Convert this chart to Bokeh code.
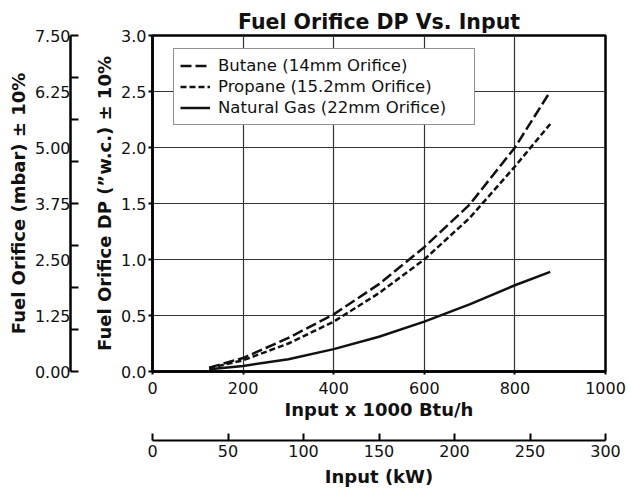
from bokeh.plotting import figure
from bokeh.models import (LinearAxis, Range1d, FixedTicker, PrintfTickFormatter)
from bokeh.embed import file_html
from bokeh.resources import INLINE

# ---- data ----
input_kbtu = [125, 200, 300, 400, 500, 600, 700, 800, 878]
butane = [0.035, 0.12, 0.30, 0.51, 0.78, 1.11, 1.49, 2.00, 2.50]
propane = [0.03, 0.10, 0.25, 0.445, 0.70, 1.00, 1.37, 1.83, 2.21]
natural_gas = [0.02, 0.05, 0.11, 0.20, 0.31, 0.445, 0.60, 0.77, 0.89]

series_names = ["Butane (14mm Orifice)", "Propane (15.2mm Orifice)", "Natural Gas (22mm Orifice)"]

x_ticks = [0, 200, 400, 600, 800, 1000]
y_ticks = [0.0, 0.5, 1.0, 1.5, 2.0, 2.5, 3.0]
mbar_labels = [0.0, 1.25, 2.5, 3.75, 5.0, 6.25, 7.5]
mbar_marks = [0.0, 0.9375, 1.875, 2.8125, 3.75, 4.6875, 5.625, 6.5625, 7.5]
kw_ticks = [0, 50, 100, 150, 200, 250, 300]

FONT = "DejaVu Sans"
INK = "#111111"

p = figure(width=631, height=489,
           x_range=Range1d(0, 1000), y_range=Range1d(0, 3.0),
           output_backend="svg", toolbar_location=None,
           min_border_left=152, min_border_right=26,
           min_border_top=35, min_border_bottom=117,
           title="Fuel Orifice DP Vs. Input")
p.extra_y_ranges = {"mbar": Range1d(0, 7.5)}
p.extra_x_ranges = {"kw": Range1d(0, 300)}

p.title.align = "center"
p.title.text_font = FONT
p.title.text_font_size = "20.5px"
p.title.text_font_style = "bold"
p.title.text_color = INK
p.title.standoff = 3

p.outline_line_color = "black"
p.outline_line_width = 2.5
p.outline_line_alpha = 1.0
p.background_fill_color = "white"
p.border_fill_color = "white"

def style_axis(ax, label_size="16px"):
    ax.major_label_text_font = FONT
    ax.major_label_text_font_size = label_size
    ax.major_label_text_color = INK
    ax.axis_label_text_font = FONT
    ax.axis_label_text_font_size = "18px"
    ax.axis_label_text_font_style = "bold"
    ax.axis_label_text_color = INK
    ax.axis_line_color = "black"
    ax.major_tick_line_color = "black"
    ax.minor_tick_line_color = None

def spacer(gap, **kw):
    sp = LinearAxis(ticker=FixedTicker(ticks=[]), axis_label=" ", **kw)
    sp.axis_line_color = None
    sp.major_tick_line_color = None
    sp.minor_tick_line_color = None
    sp.major_tick_out = 0
    sp.major_tick_in = 0
    sp.axis_label_text_font_size = "1px"
    sp.axis_label_standoff = gap
    return sp

# main x axis
xa = p.xaxis[0]
style_axis(xa)
xa.ticker = FixedTicker(ticks=x_ticks)
xa.formatter = PrintfTickFormatter(format="%d")
xa.axis_label = "Input x 1000 Btu/h"
xa.axis_line_width = 2.5
xa.major_tick_out = 3
xa.major_tick_in = 0
xa.major_tick_line_width = 2
xa.major_label_standoff = 7
xa.axis_label_standoff = 2

# main y axis
ya = p.yaxis[0]
style_axis(ya)
ya.ticker = FixedTicker(ticks=y_ticks)
ya.formatter = PrintfTickFormatter(format="%.1f")
ya.axis_label = "Fuel Orifice DP (\u201dw.c.) \u00b1 10%"
ya.axis_line_width = 2.5
ya.major_tick_out = 4
ya.major_tick_in = 0
ya.major_tick_line_width = 2
ya.major_label_standoff = 2
ya.axis_label_standoff = 3

# grid
p.xgrid.grid_line_color = "#333333"
p.xgrid.grid_line_width = 1.2
p.ygrid.grid_line_color = "#333333"
p.ygrid.grid_line_width = 1.2

# spacer on the left, then mbar axis
p.add_layout(spacer(17, y_range_name="mbar"), "left")

mbar_ax = LinearAxis(y_range_name="mbar",
                     ticker=FixedTicker(ticks=mbar_labels, minor_ticks=mbar_marks),
                     formatter=PrintfTickFormatter(format="%.2f"),
                     axis_label="Fuel Orifice (mbar) \u00b1 10%")
style_axis(mbar_ax)
mbar_ax.minor_tick_line_color = "black"
mbar_ax.minor_tick_line_width = 2
mbar_ax.minor_tick_in = 8
mbar_ax.minor_tick_out = 0
mbar_ax.major_tick_in = 0
mbar_ax.major_tick_out = 0
mbar_ax.major_tick_line_color = None
mbar_ax.axis_line_width = 2.5
mbar_ax.major_label_standoff = 0
mbar_ax.axis_label_standoff = 3
p.add_layout(mbar_ax, "left")

# spacer below, then kW axis
p.add_layout(spacer(14, x_range_name="kw"), "below")

kw_ax = LinearAxis(x_range_name="kw", ticker=FixedTicker(ticks=kw_ticks),
                   formatter=PrintfTickFormatter(format="%d"),
                   axis_label="Input (kW)")
style_axis(kw_ax)
kw_ax.axis_line_width = 2
kw_ax.major_tick_line_width = 2
kw_ax.major_tick_in = 7
kw_ax.major_tick_out = 0
kw_ax.major_label_standoff = 4
kw_ax.axis_label_standoff = 6
p.add_layout(kw_ax, "below")

# curves
p.line(input_kbtu, butane, line_color=INK, line_width=2.5, line_dash="11 4",
       legend_label=series_names[0])
p.line(input_kbtu, propane, line_color=INK, line_width=2.5, line_dash="6 3",
       legend_label=series_names[1])
p.line(input_kbtu, natural_gas, line_color=INK, line_width=2.5,
       legend_label=series_names[2])

lg = p.legend[0]
lg.location = (21, 246)
lg.border_line_color = "#222222"
lg.border_line_width = 1
lg.background_fill_color = "white"
lg.background_fill_alpha = 1.0
lg.padding = 6
lg.spacing = 0
lg.margin = 0
lg.label_height = 21
lg.glyph_height = 21
lg.glyph_width = 30
lg.label_standoff = 8
lg.label_width = 250
lg.label_text_font = FONT
lg.label_text_font_size = "16.5px"
lg.label_text_color = INK

open("out.html", "w").write(file_html(p, INLINE))
